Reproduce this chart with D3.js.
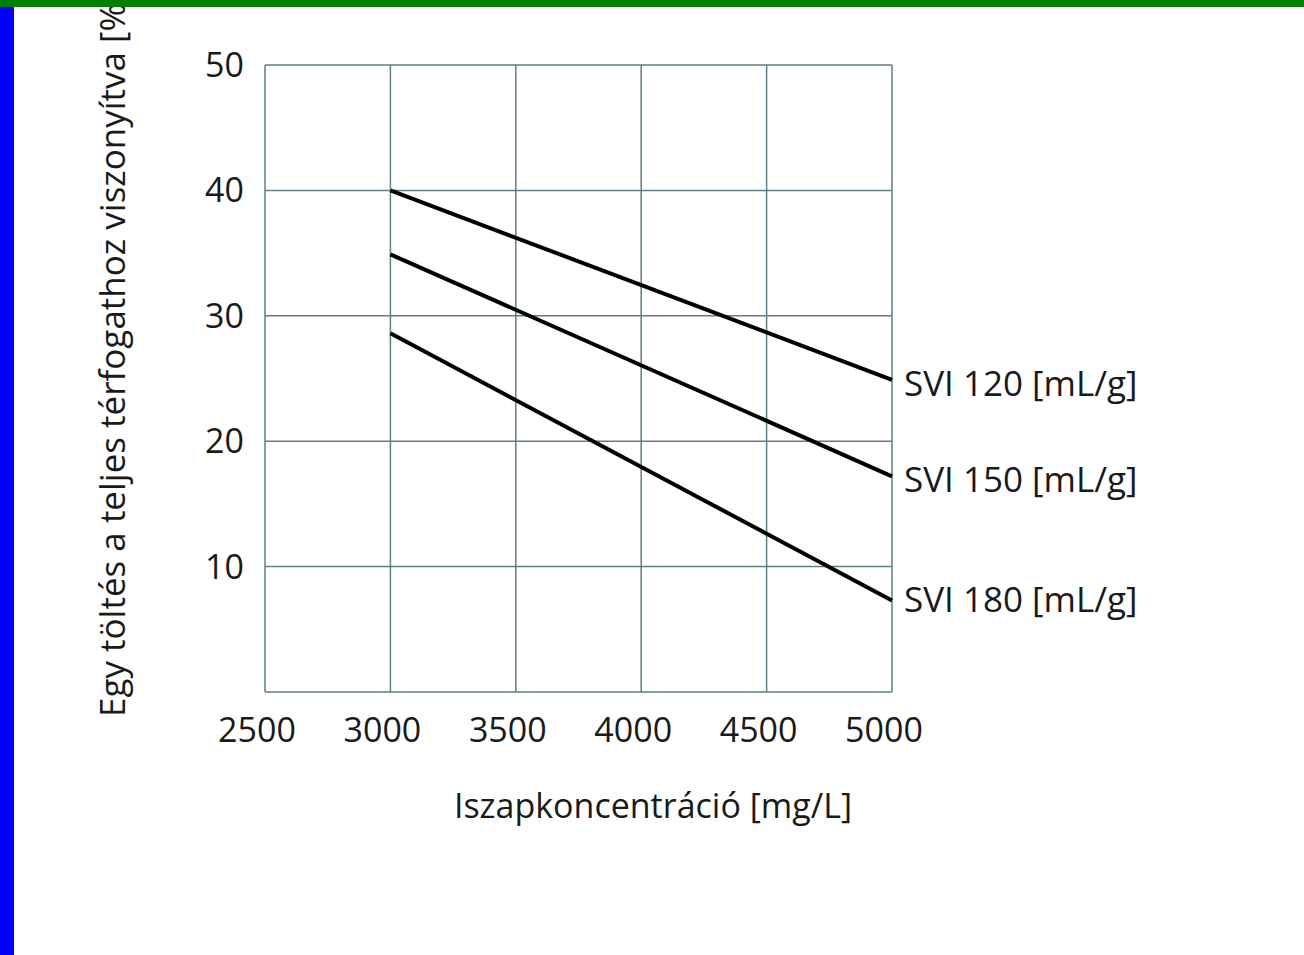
<!DOCTYPE html>
<html>
<head>
<meta charset="utf-8">
<script src="https://cdn.jsdelivr.net/npm/d3@7"></script>
<style>
  body { margin: 0; background: #fff; }
  svg text { font-family: "Open Sans", Lato, sans-serif; fill: #1a1a1a; }
</style>
</head>
<body>
<div id="chart"></div>
<script>
// data
const xTicks = [2500, 3000, 3500, 4000, 4500, 5000];
const yTicks = [10, 20, 30, 40, 50];
const seriesNames = ["SVI 120 [mL/g]", "SVI 150 [mL/g]", "SVI 180 [mL/g]"];
const xStart = [3000, 3000, 3000];
const xEnd = [5000, 5000, 5000];
const yStart = [40, 34.9, 28.6];
const yEnd = [24.9, 17.2, 7.3];

const W = 1304, H = 955;
const margin = {top: 65, right: 412, bottom: 263, left: 265};

const svg = d3.select("#chart").append("svg")
  .attr("width", W).attr("height", H);

const x = d3.scaleLinear().domain([2500, 5000]).range([margin.left, W - margin.right]);
const y = d3.scaleLinear().domain([0, 50]).range([H - margin.bottom, margin.top]);

const gridCol = "#5d7f87";

// vertical grid
svg.append("g").selectAll("line").data(xTicks).enter().append("line")
  .attr("x1", d => x(d)).attr("x2", d => x(d))
  .attr("y1", y(50)).attr("y2", y(0))
  .attr("stroke", gridCol).attr("stroke-width", 1.5);

// horizontal grid (incl. bottom line)
svg.append("g").selectAll("line").data([0].concat(yTicks)).enter().append("line")
  .attr("x1", x(2500)).attr("x2", x(5000))
  .attr("y1", d => y(d)).attr("y2", d => y(d))
  .attr("stroke", gridCol).attr("stroke-width", 1.5);

// tick labels
svg.append("g").selectAll("text").data(yTicks).enter().append("text")
  .attr("x", 244).attr("y", d => y(d) + 12)
  .attr("text-anchor", "end")
  .style("font-size", "34px").text(d => d);

svg.append("g").selectAll("text").data(xTicks).enter().append("text")
  .attr("x", d => x(d) - 8).attr("y", 742)
  .attr("text-anchor", "middle")
  .style("font-size", "34px").text(d => d);

// axis titles
svg.append("text")
  .attr("x", 653).attr("y", 818)
  .attr("text-anchor", "middle")
  .style("font-size", "34px").text("Iszapkoncentráció [mg/L]");

svg.append("text")
  .attr("transform", "translate(125,717) rotate(-90)")
  .attr("text-anchor", "start")
  .style("font-size", "35px").text("Egy töltés a teljes térfogathoz viszonyítva [%]");

// series lines
const line = d3.line().x(d => x(d[0])).y(d => y(d[1]));
seriesNames.forEach((name, i) => {
  svg.append("path")
    .datum([[xStart[i], yStart[i]], [xEnd[i], yEnd[i]]])
    .attr("d", line)
    .attr("fill", "none").attr("stroke", "#000").attr("stroke-width", 4);
  svg.append("text")
    .attr("x", x(xEnd[i]) + 12).attr("y", y(yEnd[i]) + (i === 2 ? 12 : 16))
    .style("font-size", "35px").text(name);
});

// frame bars, drawn on top like in the slide
svg.append("rect").attr("x", 0).attr("y", 0).attr("width", W).attr("height", 7).attr("fill", "#008000");
svg.append("rect").attr("x", 0).attr("y", 7).attr("width", 14).attr("height", H - 7).attr("fill", "#0000ff");
</script>
</body>
</html>
